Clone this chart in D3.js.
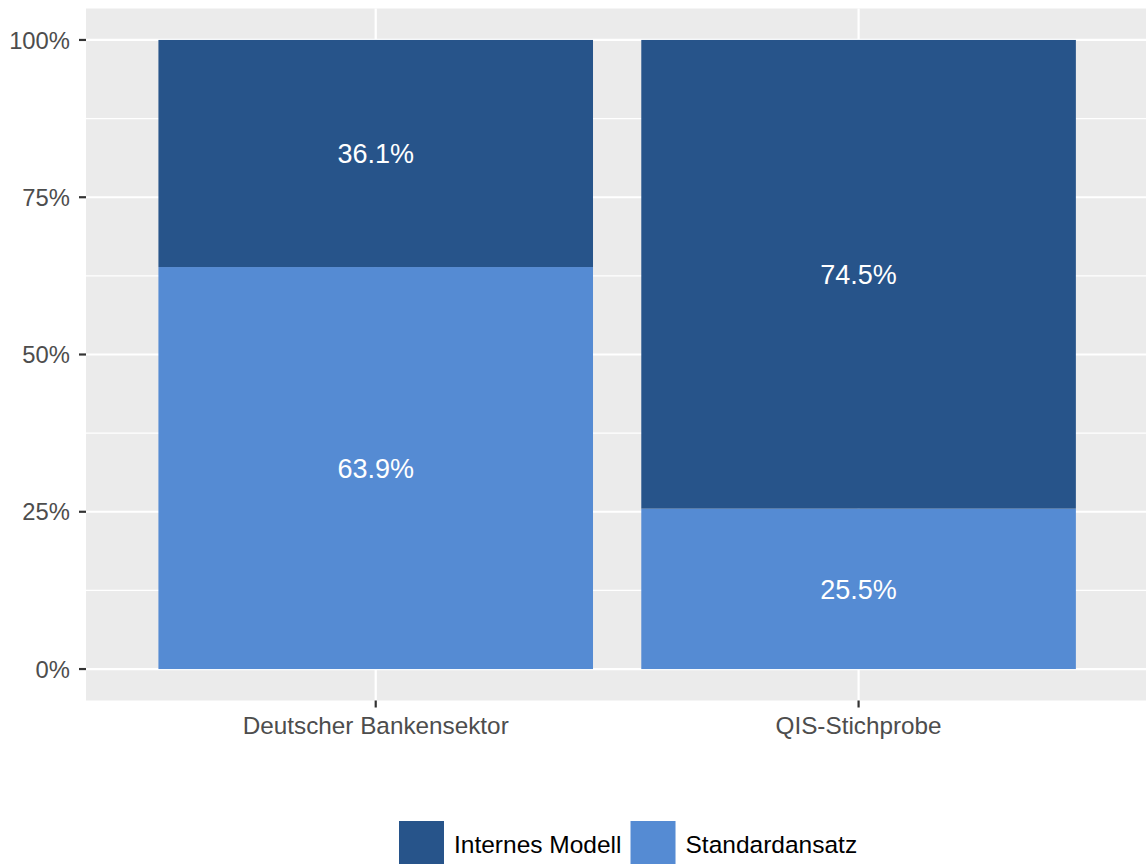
<!DOCTYPE html>
<html>
<head>
<meta charset="utf-8">
<script src="https://cdn.jsdelivr.net/npm/d3@7"></script>
<style>
  html, body { margin: 0; padding: 0; background: #fff; }
  svg { display: block; font-family: "Liberation Sans", Arial, sans-serif; }
</style>
</head>
<body>
<svg id="chart" width="1146" height="864"></svg>
<script>
// Share of capital approach by sample
const categories = ["Deutscher Bankensektor", "QIS-Stichprobe"];
const seriesNames = ["Standardansatz", "Internes Modell"];
const standardansatz = [63.9, 25.5];
const internesModell = [36.1, 74.5];
const yTicks = [0, 25, 50, 75, 100];
const yMinor = [12.5, 37.5, 62.5, 87.5];
const legendOrder = ["Internes Modell", "Standardansatz"];

const colors = { "Internes Modell": "#27548A", "Standardansatz": "#558BD3" };

const svg = d3.select("#chart");
const panel = { left: 86, top: 8.5, right: 1148.3, bottom: 700.5 };

// ggplot-like expansion: 5% on continuous, 0.6 units on discrete
const y = d3.scaleLinear().domain([-5, 105]).range([panel.bottom, panel.top]);
const x = d3.scaleLinear().domain([0.4, 2.6]).range([panel.left, panel.right]);
const barW = 0.9;

svg.append("rect")
  .attr("x", panel.left).attr("y", panel.top)
  .attr("width", panel.right - panel.left).attr("height", panel.bottom - panel.top)
  .attr("fill", "#EBEBEB");

const grid = svg.append("g");
grid.selectAll(".minor").data(yMinor).join("line")
  .attr("x1", panel.left).attr("x2", panel.right)
  .attr("y1", d => y(d)).attr("y2", d => y(d))
  .attr("stroke", "#fff").attr("stroke-width", 1.1);
grid.selectAll(".major").data(yTicks).join("line")
  .attr("x1", panel.left).attr("x2", panel.right)
  .attr("y1", d => y(d)).attr("y2", d => y(d))
  .attr("stroke", "#fff").attr("stroke-width", 2.2);
grid.selectAll(".vmajor").data(categories).join("line")
  .attr("x1", (d, i) => x(i + 1)).attr("x2", (d, i) => x(i + 1))
  .attr("y1", panel.top).attr("y2", panel.bottom)
  .attr("stroke", "#fff").attr("stroke-width", 2.2);

// stacked bars
const rows = categories.map((c, i) => ({ cat: c, i, "Standardansatz": standardansatz[i], "Internes Modell": internesModell[i] }));
const stack = d3.stack().keys(seriesNames)(rows);

const bars = svg.append("g");
stack.forEach(layer => {
  bars.selectAll(null).data(layer).join("rect")
    .attr("x", d => x(d.data.i + 1 - barW / 2))
    .attr("width", d => x(d.data.i + 1 + barW / 2) - x(d.data.i + 1 - barW / 2))
    .attr("y", d => y(d[1]))
    .attr("height", d => y(d[0]) - y(d[1]))
    .attr("fill", colors[layer.key]);
  bars.selectAll(null).data(layer).join("text")
    .attr("x", d => x(d.data.i + 1))
    .attr("y", d => y((d[0] + d[1]) / 2))
    .attr("dy", "0.36em")
    .attr("text-anchor", "middle")
    .attr("fill", "#fff")
    .attr("font-size", 27)
    .text(d => d3.format(".1f")(d[1] - d[0]) + "%");
});

// y axis
const yAxis = svg.append("g");
yAxis.selectAll("line").data(yTicks).join("line")
  .attr("x1", panel.left - 7).attr("x2", panel.left)
  .attr("y1", d => y(d)).attr("y2", d => y(d))
  .attr("stroke", "#333").attr("stroke-width", 2.2);
yAxis.selectAll("text").data(yTicks).join("text")
  .attr("x", panel.left - 16).attr("y", d => y(d)).attr("dy", "0.36em")
  .attr("text-anchor", "end").attr("fill", "#4D4D4D").attr("font-size", 23.8)
  .text(d => d + "%");

// x axis
const xAxis = svg.append("g");
xAxis.selectAll("line").data(categories).join("line")
  .attr("x1", (d, i) => x(i + 1)).attr("x2", (d, i) => x(i + 1))
  .attr("y1", panel.bottom).attr("y2", panel.bottom + 7)
  .attr("stroke", "#333").attr("stroke-width", 2.2);
xAxis.selectAll("text").data(categories).join("text")
  .attr("x", (d, i) => x(i + 1)).attr("y", panel.bottom + 33.5)
  .attr("text-anchor", "middle").attr("fill", "#4D4D4D").attr("font-size", 24.3)
  .text(d => d);

// legend
const legend = svg.append("g");
const keyW = 45, keyH = 43, keyTop = 821;
let lx = 399;
legendOrder.forEach(name => {
  legend.append("rect").attr("x", lx).attr("y", keyTop).attr("width", keyW).attr("height", keyH)
    .attr("fill", colors[name]);
  const t = legend.append("text").attr("x", lx + keyW + 10).attr("y", keyTop + keyH / 2 + 2)
    .attr("dy", "0.36em").attr("fill", "#000").attr("font-size", 24.5).text(name);
  lx += keyW + 10 + t.node().getComputedTextLength() + 9;
});
</script>
</body>
</html>
